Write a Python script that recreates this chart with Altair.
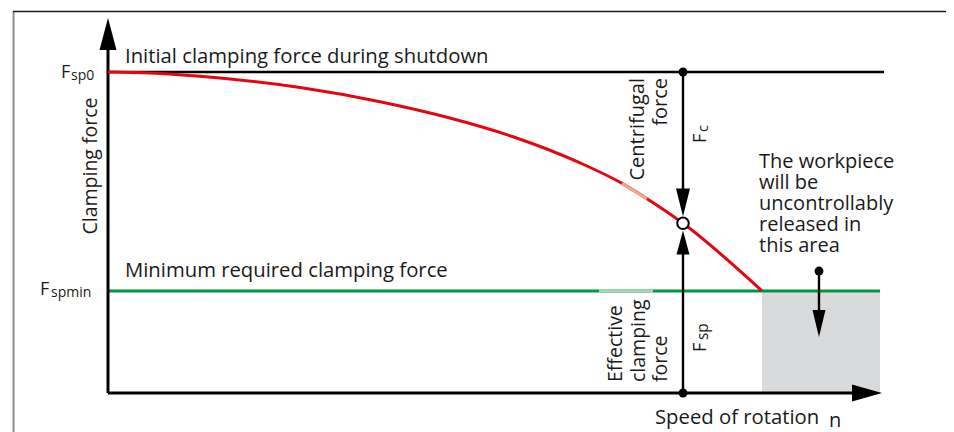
import altair as alt
import pandas as pd

# ---- coordinate frame: speed n (100 = speed marked in the diagram), force F (100 = Fsp0)
X_DOMAIN = [-17.39, 145.74]
Y_DOMAIN = [-12.15, 119.94]
FSP0 = 100.0
FSPMIN = 31.8

# ---- red curve: effective clamping force over speed
curve_n = [0.0, 7.30, 16.0, 33.39, 47.30, 58.96, 70.43, 82.09, 89.39, 93.74, 100.0, 113.74]
curve_F = [100.0, 99.69, 98.66, 95.17, 90.75, 85.9, 79.84, 71.7, 65.3, 60.5, 52.87, 31.8]
hl_n = [89.39, 93.74]
hl_F = [65.3, 60.5]

# ---- straight segments
seg_n1 = [-16.43, -16.52, 0.0, 0.0, 85.39, 0.0, 0.0, 100.0, 100.0, 123.65]
seg_n2 = [-16.43, 145.74, 134.96, 134.26, 94.78, 0.0, 131.0, 100.0, 100.0, 123.65]
seg_F1 = [118.85, 118.85, 100.0, 31.8, 31.8, 0.0, 0.0, 100.0, 0.0, 38.0]
seg_F2 = [-12.15, 118.85, 100.0, 31.8, 31.8, 110.0, 0.0, 58.0, 48.0, 24.0]
seg_color = ["#8c8c8c", "#1a1a1a", "#000000", "#009640", "#a6d6b3", "#000000",
             "#000000", "#000000", "#000000", "#000000"]
seg_width = [2.0, 1.3, 2.6, 3.0, 3.0, 3.0, 3.0, 2.4, 2.4, 2.4]

# ---- release area
area_n1 = [113.74]
area_n2 = [134.26]
area_F1 = [0.0]
area_F2 = [31.8]

# ---- dots
dot_n = [100.0, 100.0, 123.65]
dot_F = [100.0, 0.0, 38.0]
ring_n = [100.0]
ring_F = [52.87]

# ---- arrowheads (tip positions)
arrow_n = [0.0, 134.61, 100.0, 100.0, 123.65]
arrow_F = [116.82, 0.0, 54.98, 50.62, 17.45]
arrow_shape = [
    "M0,0L0.53,2L-0.53,2Z",
    "M0,0L-2,0.567L-2,-0.567Z",
    "M0,0L0.5,-2L-0.5,-2Z",
    "M0,0L0.54,2L-0.54,2Z",
    "M0,0L0.48,-2L-0.48,-2Z",
]
arrow_size = [1024, 900, 784, 576, 729]

# ---- texts
txt = ["Initial clamping force during shutdown", "Minimum required clamping force",
       "F", "sp0", "F", "spmin",
       "The workpiece", "will be", "uncontrollably", "released in", "this area",
       "Speed of rotation", "n",
       "Clamping force",
       "Centrifugal", "force",
       "Effective", "clamping", "force",
       "F", "c", "F", "sp"]
txt_n = [2.96, 2.96, -8.17, -6.43, -11.83, -9.91,
         113.22, 113.22, 113.22, 113.22, 113.22,
         95.13, 125.39,
         -2.96,
         92.26, 96.26,
         88.43, 92.43, 96.26,
         104.0, 104.35, 104.0, 104.35]
txt_F = [102.8, 36.14, 98.13, 97.51, 30.53, 29.91,
         70.2, 63.65, 57.1, 50.55, 44.0,
         -9.66, -10.59,
         70.72,
         98.13, 98.13,
         3.43, 3.43, 3.43,
         77.88, 81.31, 12.77, 16.5]
txt_size = [20.3, 20.3, 18, 14, 18, 14,
            20, 20, 20, 20, 20,
            20.3, 20,
            19.5,
            20, 20,
            19.5, 19.5, 19.5,
            18, 14.5, 18, 15.5]
txt_angle = [0] * 13 + [270] * 10
txt_align = ["left"] * 13 + ["center"] + ["right"] * 2 + ["left"] * 3 + ["left"] * 4
txt_base = ["alphabetic"] * 13 + ["middle"] * 6 + ["alphabetic"] * 4

FONT = "Open Sans"


def X(field):
    return alt.X(field, type="quantitative",
                 scale=alt.Scale(domain=X_DOMAIN, nice=False, zero=False), axis=None)


def Y(field):
    return alt.Y(field, type="quantitative",
                 scale=alt.Scale(domain=Y_DOMAIN, nice=False, zero=False), axis=None)


area_df = pd.DataFrame({"n1": area_n1, "n2": area_n2, "F1": area_F1, "F2": area_F2})
area = alt.Chart(area_df).mark_rect(color="#d9dadb").encode(
    x=X("n1"), x2="n2", y=Y("F1"), y2="F2")

curve_df = pd.DataFrame({"n": curve_n, "F": curve_F})
curve = alt.Chart(curve_df).mark_line(color="#e30613", strokeWidth=3,
                                      interpolate="monotone").encode(
    x=X("n"), y=Y("F"))

hl_df = pd.DataFrame({"n": hl_n, "F": hl_F})
hl = alt.Chart(hl_df).mark_line(color="#f2a58b", strokeWidth=3.2).encode(
    x=X("n"), y=Y("F"))

seg_df = pd.DataFrame({"n1": seg_n1, "n2": seg_n2, "F1": seg_F1, "F2": seg_F2,
                       "c": seg_color, "w": seg_width, "i": list(range(len(seg_n1)))})
segs = alt.Chart(seg_df).mark_rule().encode(
    x=X("n1"), x2="n2", y=Y("F1"), y2="F2",
    color=alt.Color("c:N", scale=None),
    strokeWidth=alt.StrokeWidth("w:Q", scale=None),
    detail="i:N")

arrow_df = pd.DataFrame({"n": arrow_n, "F": arrow_F, "shape": arrow_shape, "size": arrow_size})
arrows = alt.Chart(arrow_df).mark_point(filled=True, color="#000000", opacity=1,
                                        strokeWidth=0).encode(
    x=X("n"), y=Y("F"),
    shape=alt.Shape("shape:N", scale=None),
    size=alt.Size("size:Q", scale=None))

dot_df = pd.DataFrame({"n": dot_n, "F": dot_F})
dots = alt.Chart(dot_df).mark_circle(color="#000000", size=79, opacity=1).encode(
    x=X("n"), y=Y("F"))

ring_df = pd.DataFrame({"n": ring_n, "F": ring_F})
ring = alt.Chart(ring_df).mark_point(shape="circle", filled=False, fill="#ffffff",
                                     fillOpacity=1, stroke="#000000", strokeWidth=2,
                                     opacity=1, size=133).encode(
    x=X("n"), y=Y("F"))

txt_df = pd.DataFrame({"t": txt, "n": txt_n, "F": txt_F, "s": txt_size,
                       "a": txt_angle, "al": txt_align, "bl": txt_base})
text_layers = []
for (al, bl), sub in txt_df.groupby(["al", "bl"]):
    text_layers.append(
        alt.Chart(sub).mark_text(align=al, baseline=bl, font=FONT, color="#1a1a1a").encode(
            x=X("n"), y=Y("F"), text="t:N",
            size=alt.Size("s:Q", scale=None),
            angle=alt.Angle("a:Q", scale=None)))

chart = alt.layer(area, segs, curve, hl, arrows, dots, ring, *text_layers).properties(
    width=938, height=424,
    autosize=alt.AutoSizeParams(type="none"),
    padding=0,
).configure_view(strokeWidth=0)

chart.save("out.html", embed_options={"renderer": "svg", "actions": False})
